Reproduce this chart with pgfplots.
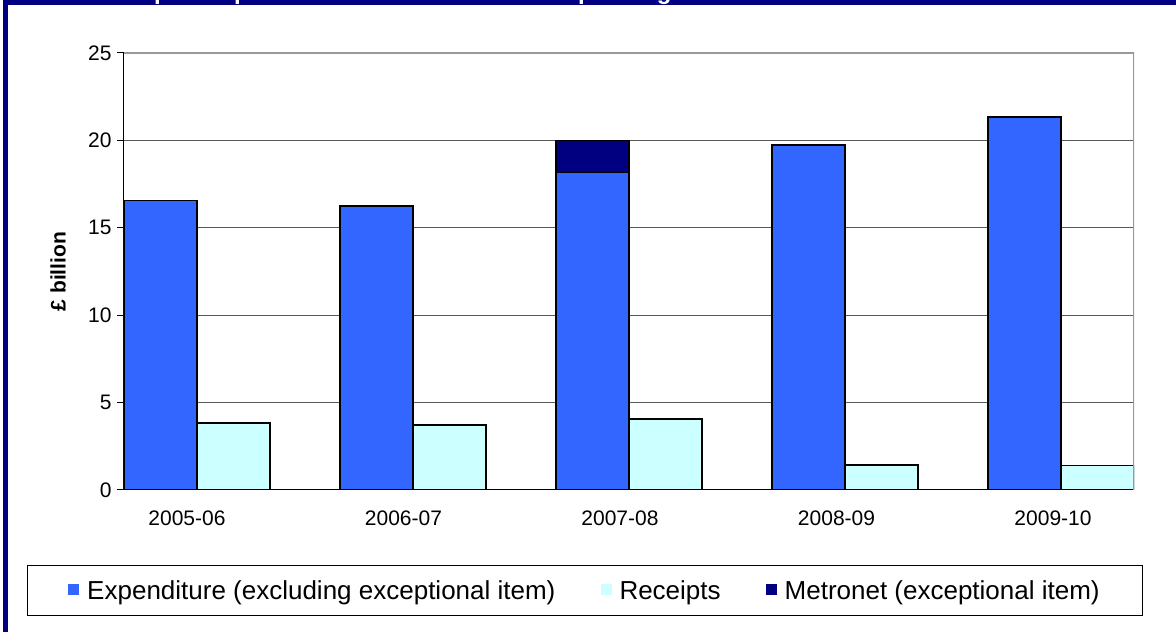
\documentclass[border=0pt]{standalone}
\usepackage{pgfplots}
\pgfplotsset{compat=1.18}
\usepackage{fontspec}
\setmainfont{Liberation Sans}
\definecolor{expblue}{HTML}{3366FF}
\definecolor{reccyan}{HTML}{CCFFFF}
\definecolor{metnavy}{HTML}{000080}
\begin{document}
\begin{tikzpicture}[x=1pt,y=1pt]
\useasboundingbox (0,0) rectangle (1176,632);
\fill[white] (0,0) rectangle (1176,632);
\fill[metnavy] (3,0) rectangle (7.5,632);
\fill[metnavy] (3,627) rectangle (1176,632);
\begin{scope}
\clip (0,0) rectangle (1176,632);
\node[anchor=base west, text=white, inner sep=0pt, font=\bfseries\fontsize{24}{28}\selectfont] at (90,632) {Transport expenditure and total Metronet spending};
\end{scope}
\begin{axis}[
  at={(124pt,142pt)}, anchor=south west,
  scale only axis, width=1010pt, height=437pt,
  xmin=0, xmax=1010, ymin=0, ymax=25,
  axis x line*=bottom, axis y line*=left,
  axis line style={black, line width=1pt},
  ytick={0,5,...,25},
  xtick={63,279.5,496,712.5,929},
  xticklabels={2005-06,2006-07,2007-08,2008-09,2009-10},
  x tick style={draw=none},
  y tick style={black, line width=1pt},
  tick align=outside, major tick length=7pt,
  ymajorgrids, grid style={black!65, line width=1pt},
  /pgf/number format/assume math mode=true,
  tick label style={font=\fontsize{21}{25}\selectfont},
  yticklabel style={xshift=-2pt},
  xticklabel style={yshift=-10pt},
  ylabel={£ billion},
  ylabel style={font=\bfseries\fontsize{21}{25}\selectfont, at={(axis description cs:-0.0653,0.5)}, anchor=center},
  legend columns=3,
  legend style={at={(axis description cs:0.4564,-0.1716)}, anchor=north, draw=black, line width=1pt,
    font=\fontsize{26}{31}\selectfont, inner xsep=41pt, inner ysep=13pt,
    /tikz/every odd column/.append style={column sep=6pt},
    /tikz/every even column/.append style={column sep=43pt}},
  legend image code/.code={\fill[#1,draw=none] (0pt,-4pt) rectangle (11pt,7pt);},
]
\addplot[ybar, bar width=73, bar shift=0pt, fill=metnavy, draw=black, line width=1.5pt, forget plot]
  coordinates {(468.5,20.0)};
\addplot[ybar, bar width=73, bar shift=0pt, fill=expblue, draw=black, line width=1.5pt]
  coordinates {(36.5,16.55) (252.5,16.25) (468.5,18.15) (684.5,19.75) (900.5,21.35)};
\addplot[ybar, bar width=73, bar shift=0pt, fill=reccyan, draw=black, line width=1.5pt]
  coordinates {(109.5,3.83) (325.5,3.72) (541.5,4.05) (757.5,1.43) (973.5,1.4)};
\addlegendimage{ybar, fill=metnavy, draw=none}
\legend{Expenditure (excluding exceptional item),Receipts,Metronet (exceptional item)}
\draw[black!40, line width=1.2pt] (rel axis cs:0,1) -- (rel axis cs:1,1) -- (rel axis cs:1,0);
\end{axis}
\end{tikzpicture}
\end{document}
